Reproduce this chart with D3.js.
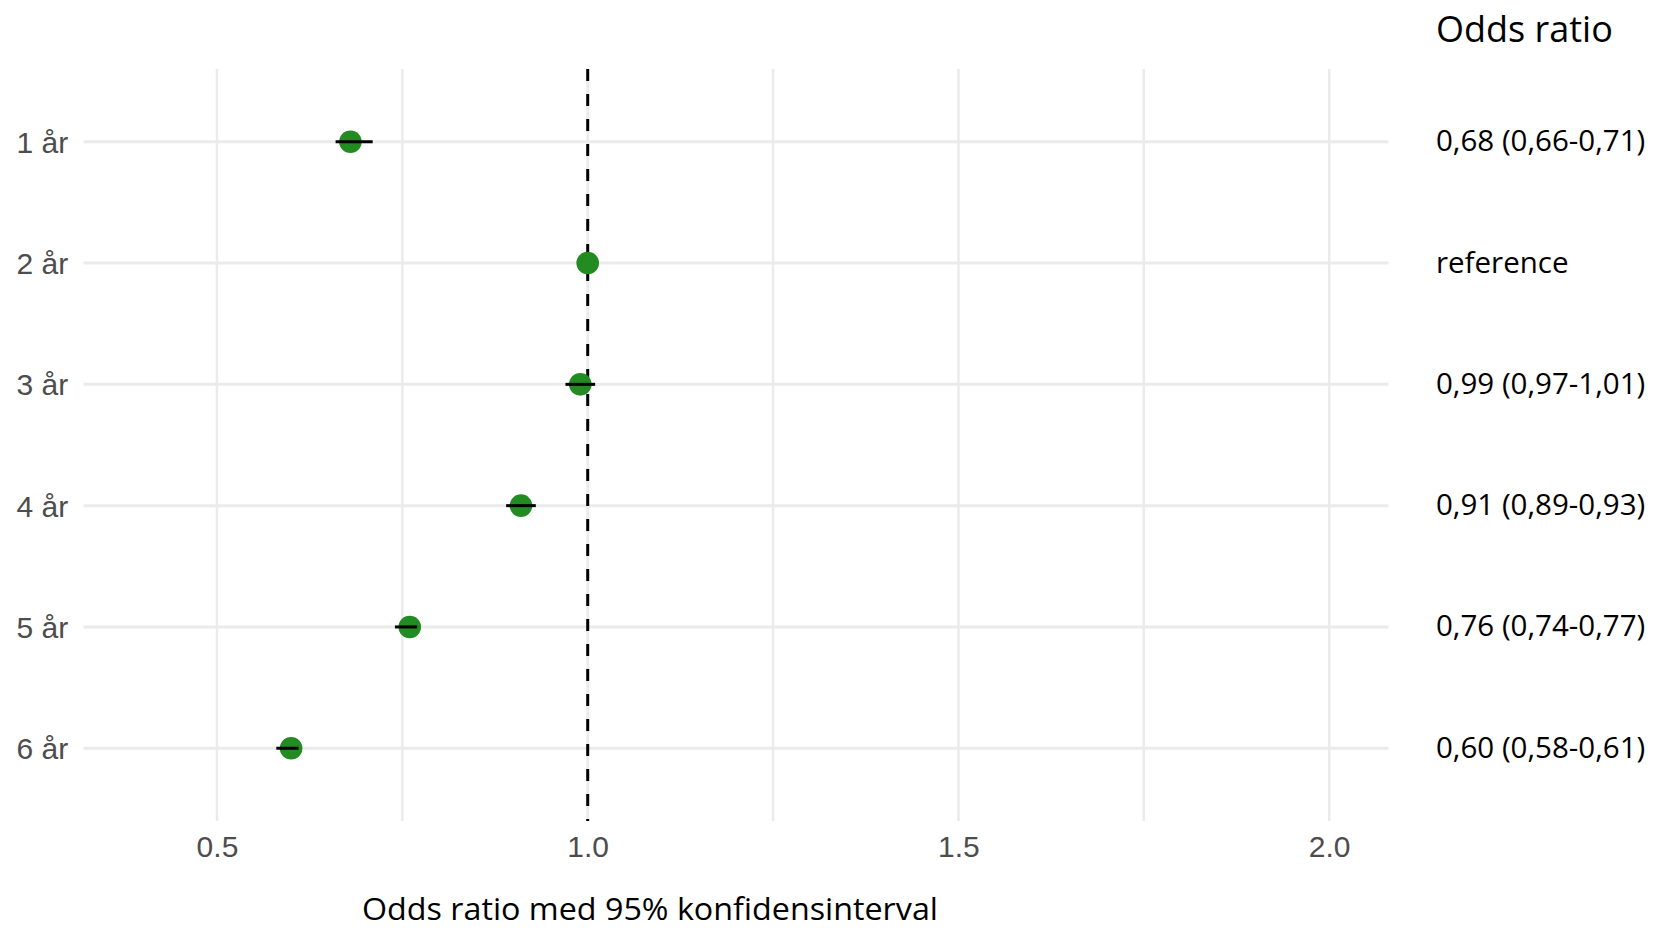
<!DOCTYPE html>
<html>
<head>
<meta charset="utf-8">
<script src="https://cdn.jsdelivr.net/npm/d3@7"></script>
<style>
  html, body { margin: 0; padding: 0; background: #fff; }
  svg { display: block; }
</style>
</head>
<body>
<svg id="chart" width="1653" height="928"></svg>
<script>
// ---- data ----
const categories = ["1 år", "2 år", "3 år", "4 år", "5 år", "6 år"];
const oddsRatio  = [0.68, 1.00, 0.99, 0.91, 0.76, 0.60];
const ciLower    = [0.66, 1.00, 0.97, 0.89, 0.74, 0.58];
const ciUpper    = [0.71, 1.00, 1.01, 0.93, 0.77, 0.61];
const orLabels   = ["0,68 (0,66-0,71)", "reference", "0,99 (0,97-1,01)", "0,91 (0,89-0,93)", "0,76 (0,74-0,77)", "0,60 (0,58-0,61)"];
const majorTicks = [0.5, 1.0, 1.5, 2.0];
const minorTicks = [0.75, 1.25, 1.75];
const xLimits    = [0.4, 2.0];
const refValue   = 1.0;
const xTitle     = "Odds ratio med 95% konfidensinterval";
const colTitle   = "Odds ratio";

// ---- layout ----
const panel = { left: 83.5, right: 1388.5, top: 69, bottom: 821 };
const svg = d3.select("#chart");

const span = xLimits[1] - xLimits[0];
const x = d3.scaleLinear()
  .domain([xLimits[0] - 0.05 * span, xLimits[1] + 0.05 * span])
  .range([panel.left, panel.right]);

const y = d3.scalePoint()
  .domain(categories)
  .range([panel.top, panel.bottom])
  .padding(0.6);

const gridColor = "#EBEBEB";

// vertical grid (minor + major)
svg.append("g").selectAll("line")
  .data(minorTicks.concat(majorTicks))
  .join("line")
  .attr("x1", d => x(d)).attr("x2", d => x(d))
  .attr("y1", panel.top).attr("y2", panel.bottom)
  .attr("stroke", gridColor).attr("stroke-width", 2.5);

// horizontal grid
svg.append("g").selectAll("line")
  .data(categories)
  .join("line")
  .attr("x1", panel.left).attr("x2", panel.right)
  .attr("y1", d => y(d)).attr("y2", d => y(d))
  .attr("stroke", gridColor).attr("stroke-width", 3);

// x axis labels
const xAxis = d3.axisBottom(x).tickValues(majorTicks).tickFormat(d3.format(".1f")).tickSize(0).tickPadding(0);
const gx = svg.append("g").attr("transform", `translate(0,${panel.bottom})`).call(xAxis);
gx.select(".domain").remove();
gx.selectAll("text")
  .attr("dy", null)
  .attr("y", 36)
  .attr("fill", "#4D4D4D")
  .style("font-family", "'Liberation Sans', Arial, sans-serif")
  .style("font-size", "30px");

// y axis labels
const yAxis = d3.axisLeft(y).tickSize(0).tickPadding(0);
const gy = svg.append("g").attr("transform", `translate(68.3,0)`).call(yAxis);
gy.select(".domain").remove();
gy.selectAll("text")
  .attr("dy", null)
  .attr("x", 0)
  .attr("y", 10.5)
  .attr("fill", "#4D4D4D")
  .attr("text-anchor", "end")
  .style("font-family", "'Liberation Sans', Arial, sans-serif")
  .style("font-size", "30px");

// reference dashed line
svg.append("line")
  .attr("x1", x(refValue)).attr("x2", x(refValue))
  .attr("y1", panel.top).attr("y2", panel.bottom)
  .attr("stroke", "#000").attr("stroke-width", 3)
  .attr("stroke-dasharray", "12,13");

const rows = categories.map((c, i) => ({ c, or: oddsRatio[i], lo: ciLower[i], hi: ciUpper[i], lab: orLabels[i] }));

// points
svg.append("g").selectAll("circle")
  .data(rows)
  .join("circle")
  .attr("cx", d => x(d.or))
  .attr("cy", d => y(d.c))
  .attr("r", 11.3)
  .attr("fill", "#228B22");

// error bars
svg.append("g").selectAll("line")
  .data(rows)
  .join("line")
  .attr("x1", d => x(d.lo)).attr("x2", d => x(d.hi))
  .attr("y1", d => y(d.c)).attr("y2", d => y(d.c))
  .attr("stroke", "#000").attr("stroke-width", 3);

// right column
const rightFont = "'Open Sans', 'Noto Sans', sans-serif";
svg.append("g").selectAll("text")
  .data(rows)
  .join("text")
  .attr("x", 1436)
  .attr("y", d => y(d.c) + 9.5)
  .attr("fill", "#000")
  .style("font-family", rightFont)
  .style("font-size", "29.5px")
  .text(d => d.lab);

svg.append("text")
  .attr("x", 1436).attr("y", 41.7)
  .attr("fill", "#000")
  .style("font-family", rightFont)
  .style("font-size", "36px")
  .text(colTitle);

svg.append("text")
  .attr("x", 362).attr("y", 920)
  .attr("fill", "#000")
  .style("font-family", rightFont)
  .style("font-size", "31.5px")
  .attr("textLength", 576)
  .attr("lengthAdjust", "spacingAndGlyphs")
  .text(xTitle);
</script>
</body>
</html>
